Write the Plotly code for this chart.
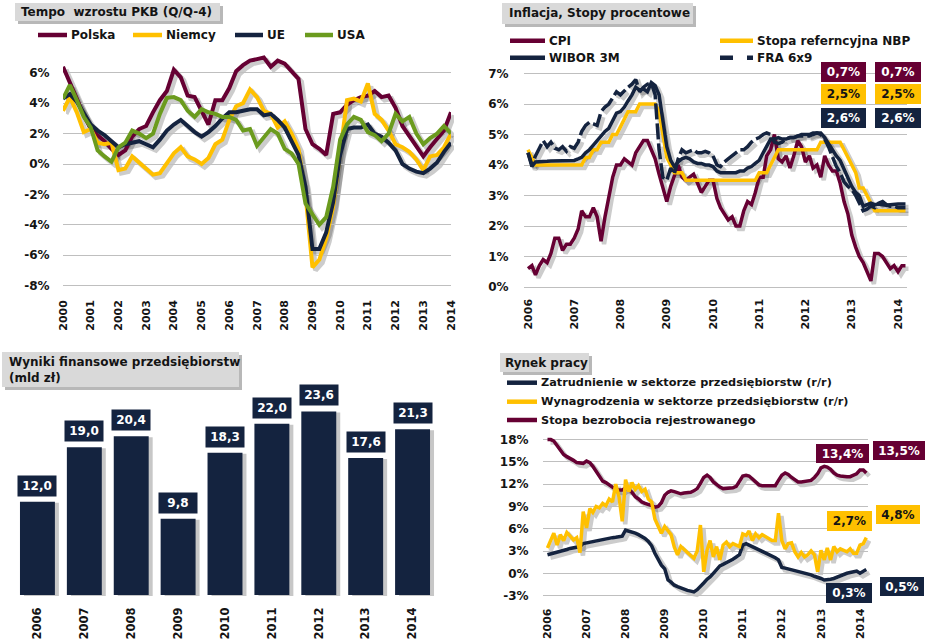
import pandas as pd
import plotly.graph_objects as go
from datetime import datetime

W, H = 927, 644


def fx(x):
    return x / W


def fy(y):
    return 1 - y / H


def frac_date(f):
    y = int(f // 1)
    a, b = datetime(y, 1, 1), datetime(y + 1, 1, 1)
    return (a + (b - a) * (f - y)).strftime("%Y-%m-%d %H:%M")


FONT = "DejaVu Sans"
MAROON = "#660033"
GOLD = "#FFC000"
NAVY = "#14233F"
GREEN = "#6B9B1E"
GRID = "#BFBFBF"
TXT = "#141414"
SHADOW = "rgba(0,0,0,0.20)"

# ---------------- DATA ----------------
# Panel 1: GDP growth (Q/Q-4), quarterly 2000Q1..2014Q1
gdp_quarters = pd.date_range("2000-01-01", "2014-01-01", freq="QS").strftime("%Y-%m-%d").tolist()
gdp_polska = [6.4, 5.4, 4.3, 3.2, 2.3, 1.9, 1.5, 1.0, 0.6, 0.9, 1.8, 2.3,
              2.5, 3.4, 4.2, 4.8, 6.2, 5.7, 4.5, 4.4, 3.5, 2.6, 4.2, 4.2,
              5.0, 6.1, 6.5, 6.8, 6.9, 7.0, 6.4, 6.8, 6.6, 6.1, 5.6, 2.3,
              1.3, 1.0, 0.6, 3.3, 3.4, 3.9, 4.2, 4.4, 4.5, 4.8, 4.4, 4.5,
              3.7, 2.5, 1.8, 1.1, 0.5, 1.1, 1.6, 2.2, 3.4]
gdp_niemcy = [3.5, 4.4, 3.4, 2.1, 2.3, 1.4, 1.3, 1.4, -0.4, -0.3, 0.5, 0.1,
              -0.3, -0.7, -0.6, 0.0, 0.7, 1.1, 0.5, 0.3, 0.0, 0.4, 1.3, 1.6,
              2.9, 3.8, 4.0, 4.9, 4.4, 3.5, 3.3, 2.4, 2.8, 2.0, 1.0, -2.0,
              -6.8, -6.3, -4.9, -2.8, 0.5, 4.2, 4.3, 4.1, 5.3, 3.3, 2.9, 2.2,
              1.3, 1.1, 0.8, 0.3, -0.4, 0.5, 0.6, 1.1, 2.0]
gdp_ue = [4.3, 4.6, 4.1, 3.3, 2.6, 2.2, 1.9, 1.5, 1.1, 1.3, 1.4, 1.5,
          1.3, 1.1, 1.6, 2.2, 2.6, 2.9, 2.5, 2.1, 1.8, 2.1, 2.5, 3.0,
          3.4, 3.4, 3.5, 3.6, 3.6, 3.2, 3.3, 2.9, 2.4, 1.5, 0.6, -1.5,
          -5.6, -5.6, -4.5, -2.5, 0.6, 2.3, 2.4, 2.4, 2.6, 2.0, 1.8, 1.4,
          0.9, 0.0, -0.3, -0.5, -0.6, -0.3, 0.1, 0.8, 1.4]
gdp_usa = [4.3, 5.2, 4.2, 3.1, 2.4, 0.9, 0.5, 0.15, 1.1, 1.4, 2.2, 2.0,
           1.7, 2.0, 3.3, 4.35, 4.4, 4.2, 3.5, 3.1, 3.6, 3.4, 3.3, 3.1,
           3.1, 2.9, 2.2, 2.3, 1.2, 1.7, 2.3, 2.0, 1.0, 0.7, 0.0, -2.6,
           -3.3, -4.0, -3.5, -1.5, 1.6, 2.6, 3.1, 2.9, 2.1, 1.9, 1.5, 2.0,
           3.3, 2.8, 3.1, 2.0, 1.3, 1.7, 2.0, 2.5, 2.0]
gdp_names = ["Polska", "Niemcy", "UE", "USA"]
gdp_ticks = [-8, -6, -4, -2, 0, 2, 4, 6]

# Panel 2 & 4: monthly 2006-01..2014-03
months = pd.date_range("2006-01-01", "2014-03-01", freq="MS").strftime("%Y-%m-%d").tolist()
cpi = [0.6, 0.7, 0.4, 0.7, 0.9, 0.8, 1.1, 1.6, 1.6, 1.2, 1.4, 1.4,
       1.6, 1.9, 2.5, 2.3, 2.3, 2.6, 2.3, 1.5, 2.3, 3.0, 3.6, 4.0,
       4.0, 4.2, 4.1, 4.0, 4.4, 4.6, 4.8, 4.8, 4.5, 4.2, 3.7, 3.3,
       2.8, 3.3, 3.6, 4.0, 3.6, 3.5, 3.6, 3.7, 3.4, 3.1, 3.3, 3.5,
       3.5, 2.9, 2.6, 2.4, 2.2, 2.3, 2.0, 2.0, 2.5, 2.8, 2.7, 3.1,
       3.6, 3.6, 4.3, 4.5, 5.0, 4.2, 4.1, 4.3, 3.9, 4.3, 4.8, 4.6,
       4.1, 4.3, 3.9, 4.0, 3.6, 4.3, 4.0, 3.8, 3.8, 3.4, 2.8, 2.4,
       1.7, 1.3, 1.0, 0.8, 0.5, 0.2, 1.1, 1.1, 1.0, 0.8, 0.6, 0.7,
       0.5, 0.7, 0.7]
ref_rate = [4.50, 4.25, 4.00, 4.00, 4.00, 4.00, 4.00, 4.00, 4.00, 4.00, 4.00, 4.00,
            4.00, 4.00, 4.00, 4.25, 4.25, 4.50, 4.50, 4.75, 4.75, 4.75, 5.00, 5.00,
            5.25, 5.50, 5.75, 5.75, 5.75, 6.00, 6.00, 6.00, 6.00, 6.00, 5.75, 5.00,
            4.25, 4.00, 3.75, 3.75, 3.75, 3.50, 3.50, 3.50, 3.50, 3.50, 3.50, 3.50,
            3.50, 3.50, 3.50, 3.50, 3.50, 3.50, 3.50, 3.50, 3.50, 3.50, 3.50, 3.50,
            3.75, 3.75, 3.75, 4.00, 4.25, 4.50, 4.50, 4.50, 4.50, 4.50, 4.50, 4.50,
            4.50, 4.50, 4.50, 4.50, 4.75, 4.75, 4.75, 4.75, 4.75, 4.75, 4.50, 4.25,
            4.00, 3.75, 3.25, 3.25, 3.00, 2.75, 2.50, 2.50, 2.50, 2.50, 2.50, 2.50,
            2.50, 2.50, 2.50]
wibor3m = [4.40, 3.95, 4.10, 4.10, 4.12, 4.12, 4.13, 4.13, 4.14, 4.15, 4.15, 4.15,
           4.15, 4.20, 4.25, 4.40, 4.50, 4.65, 4.80, 4.95, 5.10, 5.20, 5.45, 5.70,
           5.75, 5.90, 6.10, 6.30, 6.55, 6.45, 6.50, 6.40, 6.70, 6.60, 6.30, 5.40,
           4.60, 4.15, 3.95, 4.10, 4.20, 4.25, 4.20, 4.10, 4.05, 4.05, 4.00, 4.00,
           3.95, 3.80, 3.75, 3.75, 3.75, 3.75, 3.75, 3.80, 3.80, 3.90, 3.95, 4.05,
           4.15, 4.40, 4.60, 4.85, 4.85, 4.90, 4.85, 4.85, 4.90, 4.90, 4.95, 5.00,
           5.00, 5.00, 5.05, 5.05, 5.05, 4.90, 4.70, 4.50, 4.30, 4.15, 3.85, 3.60,
           3.30, 3.10, 3.00, 2.65, 2.70, 2.75, 2.70, 2.72, 2.70, 2.68, 2.70, 2.72,
           2.72, 2.72, 2.72]
fra6x9 = [4.40, 4.00, 4.30, 4.55, 4.80, 4.60, 4.75, 4.55, 4.50, 4.60, 4.45, 4.60,
          4.55, 4.75, 5.10, 5.30, 5.40, 5.35, 5.30, 5.75, 5.90, 6.00, 6.20, 6.40,
          6.30, 6.45, 6.55, 6.65, 6.80, 6.40, 6.55, 6.65, 6.70, 6.30, 4.50, 3.60,
          3.50, 3.90, 3.70, 4.20, 4.50, 4.40, 4.45, 4.50, 4.40, 4.40, 4.45, 4.40,
          4.30, 4.00, 3.95, 4.10, 4.20, 4.30, 4.40, 4.50, 4.50, 4.60, 4.75, 4.85,
          4.90, 5.00, 5.05, 5.00, 4.75, 4.70, 4.75, 4.85, 4.90, 4.90, 4.95, 4.95,
          4.95, 4.95, 5.00, 5.05, 5.00, 4.85, 4.60, 4.30, 3.95, 3.75, 3.45, 3.30,
          3.20, 3.00, 2.75, 2.50, 2.55, 2.65, 2.60, 2.75, 2.80, 2.70, 2.65, 2.65,
          2.60, 2.60, 2.60]
p2_names = ["CPI", "Stopa referncyjna NBP", "WIBOR 3M", "FRA 6x9"]
p2_labels_prev = ["0,7%", "2,5%", "2,6%"]
p2_labels_last = ["0,7%", "2,5%", "2,6%"]

# Panel 3: company financial results (bn PLN)
bar_years = ["2006", "2007", "2008", "2009", "2010", "2011", "2012", "2013", "2014"]
bar_values = [12.0, 19.0, 20.4, 9.8, 18.3, 22.0, 23.6, 17.6, 21.3]

# Panel 4: labour market
employment = [2.5, 2.6, 2.7, 2.8, 2.9, 3.0, 3.2, 3.35, 3.45, 3.5, 3.6, 4.0,
              4.1, 4.2, 4.3, 4.4, 4.45, 4.5, 4.6, 4.7, 4.8, 4.85, 4.9, 5.0,
              5.8, 5.7, 5.5, 5.4, 5.2, 5.0, 4.7, 4.3, 3.7, 2.7, 1.9, 1.1,
              0.6, -0.9, -1.2, -1.6, -1.8, -2.0, -2.2, -2.3, -2.4, -2.5, -2.2, -1.8,
              -1.3, -0.8, -0.5, 0.0, 0.5, 1.0, 1.2, 1.4, 1.6, 1.9, 2.2, 2.5,
              3.8, 4.0, 3.8, 3.6, 3.4, 3.1, 3.0, 2.8, 2.6, 2.4, 2.1, 1.8,
              0.8, 0.7, 0.6, 0.5, 0.4, 0.3, 0.2, 0.1, 0.0, -0.2, -0.4, -0.5,
              -0.7, -0.9, -0.9, -0.8, -0.7, -0.5, -0.4, -0.2, 0.0, 0.1, 0.2, 0.3,
              0.0, 0.3, 0.5]
wages = [3.4, 4.6, 5.4, 3.8, 5.2, 4.4, 5.5, 5.0, 4.5, 4.8, 2.8, 8.3,
         6.1, 8.7, 8.2, 9.0, 8.8, 9.4, 9.1, 10.0, 9.6, 12.0, 10.3, 7.0,
         12.6, 11.0, 12.2, 11.3, 11.8, 11.0, 11.3, 10.0, 9.6, 7.3, 6.2, 5.4,
         6.3, 5.8, 5.2, 3.5, 2.5, 3.6, 3.2, 2.9, 2.4, 2.0, 3.0, 6.5,
         0.2, 3.1, 4.4, 2.2, 3.6, 1.8, 3.8, 4.2, 3.6, 4.0, 3.8, 3.6,
         5.3, 5.1, 5.7, 4.4, 5.3, 4.8, 5.2, 4.9, 4.6, 4.4, 4.4, 8.1,
         4.4, 3.3, 4.0, 4.1, 2.9, 2.2, 2.8, 2.2, 2.5, 3.0, 2.5, 0.2,
         3.1, 1.8, 3.4, 1.8, 3.6, 2.9, 3.3, 3.1, 2.9, 3.3, 2.7, 2.7,
         3.8, 4.0, 4.8]
unemployment = [18.0, 18.0, 17.8, 17.2, 16.5, 16.0, 15.7, 15.5, 15.2, 14.9, 14.8, 14.8,
                15.1, 14.9, 14.4, 13.7, 13.0, 12.4, 12.2, 11.9, 11.6, 11.3, 11.2, 11.2,
                11.5, 11.3, 10.9, 10.3, 10.0, 9.6, 9.4, 9.3, 9.1, 8.9, 9.0, 9.5,
                10.5, 10.9, 11.1, 11.0, 10.8, 10.7, 10.8, 10.8, 10.9, 11.1, 11.4, 12.1,
                12.9, 13.2, 12.9, 12.3, 11.9, 11.6, 11.4, 11.4, 11.5, 11.5, 11.7, 12.4,
                13.1, 13.2, 13.1, 12.7, 12.3, 11.9, 11.8, 11.8, 11.8, 11.7, 11.8, 12.5,
                13.2, 13.5, 13.3, 12.9, 12.6, 12.3, 12.3, 12.4, 12.4, 12.5, 12.9, 13.4,
                14.2, 14.4, 14.3, 14.0, 13.5, 13.2, 13.1, 13.0, 13.0, 13.0, 13.2, 13.4,
                13.9, 13.9, 13.5]
p4_names = ["Zatrudnienie w sektorze przedsiębiorstw (r/r)",
            "Wynagrodzenia w sektorze przedsiębiorstw (r/r)",
            "Stopa bezrobocia rejestrowanego"]
p4_ticks = [-3, 0, 3, 6, 9, 12, 15, 18]
p4_labels_prev = ["13,4%", "2,7%", "0,3%"]
p4_labels_last = ["13,5%", "4,8%", "0,5%"]

# ---------------- FIGURE ----------------
fig = go.Figure()
lay = dict(width=W, height=H, margin=dict(l=0, r=0, t=0, b=0, autoexpand=False),
           paper_bgcolor="white", plot_bgcolor="rgba(0,0,0,0)", showlegend=False,
           font=dict(family=FONT, color=TXT), bargap=0.25, barmode="overlay")
shapes, annots = [], []
SDX, SDY = 3, 3


def dom_x(a, b, d=0):
    return [fx(a + d), fx(b + d)]


def dom_y(top, bot, d=0):
    return [fy(bot + d), fy(top + d)]


def hidden(domain, rng, anchor, typ=None):
    d = dict(domain=domain, range=rng, visible=False, fixedrange=True, anchor=anchor,
             showgrid=False, zeroline=False)
    if typ:
        d["type"] = typ
    return d


def date_xaxis(domain, rng, anchor, ticklen, tick0):
    return dict(domain=domain, range=rng, type="date", anchor=anchor, fixedrange=True,
                showgrid=False, zeroline=False, showline=False,
                dtick="M12", tick0=tick0, tickformat="%Y", tickangle=-90,
                ticks="outside", ticklen=ticklen, tickcolor="rgba(0,0,0,0)",
                tickfont=dict(family=FONT, size=11, color=TXT, weight="bold"))


def pct(v):
    return f"{v}%"


def val_yaxis(domain, rng, anchor, tickvals, ticklen):
    return dict(domain=domain, range=rng, anchor=anchor, fixedrange=True,
                showgrid=True, gridcolor=GRID, gridwidth=1, zeroline=False, showline=False,
                tickmode="array", tickvals=tickvals, ticktext=[pct(v) for v in tickvals],
                ticks="outside", ticklen=ticklen, tickcolor="rgba(0,0,0,0)",
                tickfont=dict(family=FONT, size=12, color=TXT, weight="bold"))


def title_box(x0, y0, x1, y1, text, tx, ty):
    shapes.append(dict(type="rect", xref="paper", yref="paper", x0=fx(x0 + 3), x1=fx(x1 + 3),
                       y0=fy(y1 + 3), y1=fy(y0 + 3), fillcolor="rgba(0,0,0,0.28)", line_width=0))
    shapes.append(dict(type="rect", xref="paper", yref="paper", x0=fx(x0), x1=fx(x1),
                       y0=fy(y1), y1=fy(y0), fillcolor="#D9D9D9", line_width=0))
    annots.append(dict(xref="paper", yref="paper", x=fx(tx), y=fy(ty), text=text, showarrow=False,
                       xanchor="left", yanchor="middle", align="left",
                       font=dict(family=FONT, size=12, color=TXT, weight="bold")))


def legend_item(x0, x1, y, color, text, size=12, dash="solid"):
    shapes.append(dict(type="line", xref="paper", yref="paper", x0=fx(x0), x1=fx(x1),
                       y0=fy(y), y1=fy(y), line=dict(color=color, width=4.5, dash=dash)))
    annots.append(dict(xref="paper", yref="paper", x=fx(x1 + 2), y=fy(y), text=text,
                       showarrow=False, xanchor="left", yanchor="middle",
                       font=dict(family=FONT, size=size, color=TXT, weight="bold")))


def value_box(text, cx, cy, w, h, bg, fg):
    annots.append(dict(xref="paper", yref="paper", x=fx(cx), y=fy(cy), text=text,
                       showarrow=False, xanchor="center", yanchor="middle",
                       width=w - 4, height=h - 4, borderpad=2, bgcolor=bg, borderwidth=0,
                       font=dict(family=FONT, size=12, color=fg, weight="bold")))


# ---- Panel 1 ----
p1_top, p1_bot = 164 - 7.4 * 15.2, 164 + 8.4 * 15.2
p1_rng = ["2000-01-01", "2014-01-01"]
lay["xaxis"] = hidden(dom_x(63, 451, SDX), p1_rng, "y", "date")
lay["yaxis"] = hidden(dom_y(p1_top, p1_bot, SDY), [-8.4, 7.4], "x")
lay["xaxis2"] = date_xaxis(dom_x(63, 451), p1_rng, "y2", 3, "2000-01-01")
lay["yaxis2"] = val_yaxis(dom_y(p1_top, p1_bot), [-8.4, 7.4], "x2", gdp_ticks, 10)
p1_series = [gdp_polska, gdp_niemcy, gdp_ue, gdp_usa]
p1_colors = [MAROON, GOLD, NAVY, GREEN]
for s in p1_series:
    fig.add_trace(go.Scatter(x=gdp_quarters, y=s, xaxis="x", yaxis="y", mode="lines",
                             line=dict(color=SHADOW, width=5), hoverinfo="skip"))
for s, c, n in zip(p1_series, p1_colors, gdp_names):
    fig.add_trace(go.Scatter(x=gdp_quarters, y=s, xaxis="x2", yaxis="y2", mode="lines",
                             name=n, line=dict(color=c, width=4)))
title_box(15, 3, 220, 21, "Tempo  wzrostu PKB (Q/Q-4)", 19, 12)
for (a, b), c, n in zip([(38, 67), (133, 162), (235, 263), (305, 333)], p1_colors, gdp_names):
    legend_item(a, b, 35, c, n)

# ---- Panel 2 ----
p2_top, p2_bot = 287 - 7.4 * 30.5, 287 + 0.05 * 30.5
p2_rng = [frac_date(2005.9135), frac_date(2014.1946)]
lay["xaxis3"] = hidden(dom_x(524, 907, SDX), p2_rng, "y3", "date")
lay["yaxis3"] = hidden(dom_y(p2_top, p2_bot, SDY), [-0.05, 7.4], "x3")
lay["xaxis4"] = date_xaxis(dom_x(524, 907), p2_rng, "y4", 5, "2006-01-01")
lay["yaxis4"] = val_yaxis(dom_y(p2_top, p2_bot), [-0.05, 7.4], "x4", list(range(8)), 12)
p2_series = [cpi, ref_rate, wibor3m, fra6x9]
p2_colors = [MAROON, GOLD, NAVY, NAVY]
p2_dash = ["solid", "solid", "solid", "16px,4px"]
for s, d in zip(p2_series, p2_dash):
    fig.add_trace(go.Scatter(x=months, y=s, xaxis="x3", yaxis="y3", mode="lines",
                             line=dict(color=SHADOW, width=4.5, dash=d), hoverinfo="skip"))
for s, c, d, n in zip(p2_series, p2_colors, p2_dash, p2_names):
    fig.add_trace(go.Scatter(x=months, y=s, xaxis="x4", yaxis="y4", mode="lines",
                             name=n, line=dict(color=c, width=3.5, dash=d)))
title_box(502, 3, 693, 24, "Inflacja, Stopy procentowe", 507, 13.5)
legend_item(510, 545, 40.7, MAROON, p2_names[0])
legend_item(720, 753, 40.7, GOLD, p2_names[1])
legend_item(510, 545, 57.7, NAVY, p2_names[2])
legend_item(720, 753, 57.7, NAVY, p2_names[3], dash="13px,14px")
p2_box_colors = [(MAROON, "white"), (GOLD, TXT), (NAVY, "white")]
for i, cy in enumerate([72, 93.5, 118]):
    bg, fg = p2_box_colors[i]
    value_box(p2_labels_prev[i], 843, cy, 45, 20, bg, fg)
    value_box(p2_labels_last[i], 898, cy, 46, 20, bg, fg)

# ---- Panel 3 ----
p3_top, p3_bot = 595 - 30 * 7.78, 595
bar_pos = list(range(len(bar_years)))
lay["xaxis5"] = hidden(dom_x(14, 436, 4), [-0.5, 8.5], "y5")
lay["yaxis5"] = hidden(dom_y(p3_top, p3_bot, 1), [0, 30], "x5")
lay["xaxis6"] = dict(domain=dom_x(14, 436), range=[-0.5, 8.5], anchor="y6",
                     fixedrange=True, showgrid=False, zeroline=False, showline=False,
                     tickmode="array", tickvals=bar_pos, ticktext=bar_years,
                     tickangle=-90, ticks="outside", ticklen=7, tickcolor="rgba(0,0,0,0)",
                     tickfont=dict(family=FONT, size=11.5, color=TXT, weight="bold"))
lay["yaxis6"] = dict(domain=dom_y(p3_top, p3_bot), range=[0, 30], anchor="x6",
                     showticklabels=False, ticks="", fixedrange=True, showgrid=False,
                     zeroline=False, showline=False)
fig.add_trace(go.Bar(x=bar_pos, y=bar_values, xaxis="x5", yaxis="y5", width=0.745,
                     marker=dict(color="rgba(0,0,0,0.22)", line_width=0), hoverinfo="skip"))
fig.add_trace(go.Bar(x=bar_pos, y=bar_values, xaxis="x6", yaxis="y6", width=0.745,
                     marker=dict(color=NAVY, line_width=0)))
for p, v in zip(bar_pos, bar_values):
    annots.append(dict(xref="x6", yref="y6", x=p, y=v, text=f"{v:.1f}".replace(".", ","),
                       showarrow=False, xanchor="center", yanchor="bottom", yshift=5,
                       width=34, height=16, borderpad=2, bgcolor=NAVY,
                       font=dict(family=FONT, size=12, color="white", weight="bold")))
title_box(2, 352, 239, 387, "Wyniki finansowe przedsiębiorstw<br>(mld zł)", 7, 369.5)

# ---- Panel 4 ----
p4_top, p4_bot = 573.3 - 19 * 7.43, 573.3 + 3.2 * 7.43
p4_rng = [frac_date(2005.885), frac_date(2014.205)]
lay["xaxis7"] = hidden(dom_x(543, 868, SDX), p4_rng, "y7", "date")
lay["yaxis7"] = hidden(dom_y(p4_top, p4_bot, SDY), [-3.2, 19], "x7")
lay["xaxis8"] = date_xaxis(dom_x(543, 868), p4_rng, "y8", 6, "2006-01-01")
lay["yaxis8"] = val_yaxis(dom_y(p4_top, p4_bot), [-3.2, 19], "x8", p4_ticks, 11)
p4_series = [unemployment, employment, wages]
p4_colors = [MAROON, NAVY, GOLD]
for s in p4_series:
    fig.add_trace(go.Scatter(x=months, y=s, xaxis="x7", yaxis="y7", mode="lines",
                             line=dict(color=SHADOW, width=4.5), hoverinfo="skip"))
for s, c in zip(p4_series, p4_colors):
    fig.add_trace(go.Scatter(x=months, y=s, xaxis="x8", yaxis="y8", mode="lines",
                             line=dict(color=c, width=3.5)))
title_box(500, 353, 589, 372, "Rynek pracy", 503, 362.5)
legend_item(507, 537, 382.7, NAVY, p4_names[0], size=11.3)
legend_item(507, 537, 401.7, GOLD, p4_names[1], size=11.3)
legend_item(507, 537, 420, MAROON, p4_names[2], size=11.3)
value_box(p4_labels_prev[0], 842.7, 453, 53, 19, MAROON, "white")
value_box(p4_labels_last[0], 899, 450, 52, 19, MAROON, "white")
value_box(p4_labels_prev[1], 849.3, 520.7, 45, 20, GOLD, TXT)
value_box(p4_labels_last[1], 898, 514.7, 44, 19, GOLD, TXT)
value_box(p4_labels_prev[2], 849, 592.7, 46, 20, NAVY, "white")
value_box(p4_labels_last[2], 902, 586.2, 44, 19, NAVY, "white")

lay["shapes"] = shapes
lay["annotations"] = annots
fig.update_layout(**lay)
fig.write_html("out.html", config={"displayModeBar": False, "staticPlot": True},
               post_script="document.body.style.margin='0';document.body.style.padding='0';")
